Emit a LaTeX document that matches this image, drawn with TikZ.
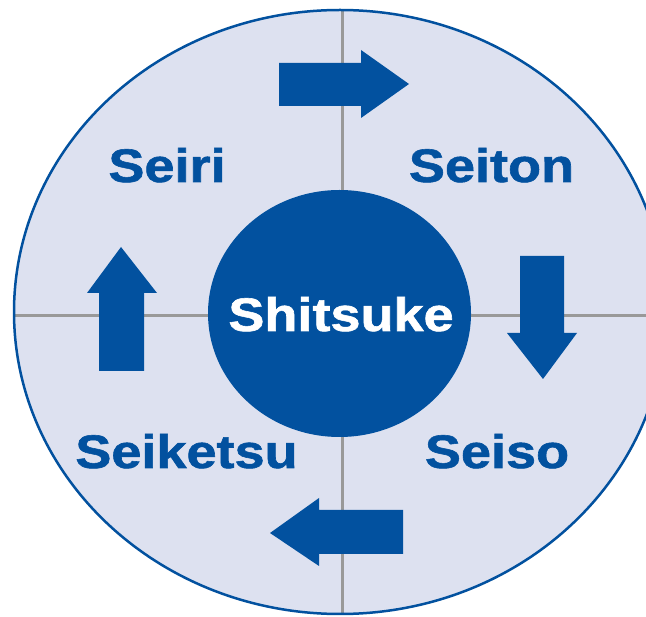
\documentclass[tikz,border=0pt]{standalone}
\usepackage{fontspec}
\setmainfont{Liberation Sans}
\newfontfamily\heavyfont[FakeBold=1.2]{Liberation Sans Bold}
\begin{document}
\begin{tikzpicture}[x=1pt,y=-1pt]
\definecolor{dblue}{RGB}{2,81,159}
\definecolor{lfill}{RGB}{221,225,240}
\definecolor{lgray}{RGB}{153,153,153}
\tikzset{
  lbl/.style={text=dblue, inner sep=0pt, anchor=base, font=\fontsize{47}{47}\heavyfont},
  arrowshape/.style={fill=dblue, draw=none},
  crossline/.style={draw=lgray, line width=3pt}
}
\useasboundingbox (0,0) rectangle (646,617);
\clip (0,0) rectangle (646,617);
\fill[white] (0,0) rectangle (646,617);
\path[fill=lfill] (340,312) ellipse [x radius=326, y radius=302];
\begin{scope}
  \clip (340,312) ellipse [x radius=326, y radius=302];
  \coordinate (vt) at (342,0);
  \coordinate (vb) at (342,617);
  \coordinate (hl) at (0,316);
  \coordinate (hr) at (646,316);
  \draw[crossline] (vt) -- (vb);
  \draw[crossline] (hl) -- (hr);
\end{scope}
\draw[dblue, line width=2.5pt] (340,312) ellipse [x radius=326, y radius=302];
\fill[dblue] (339.5,313.5) ellipse [x radius=131.5, y radius=123.5];
% arrows
\path[arrowshape] (279,63) -- (361,63) -- (361,50) -- (409,84) -- (361,118) -- (361,106) -- (279,106) -- cycle;
\path[arrowshape] (520,256) -- (564,256) -- (564,333) -- (577,333) -- (543,379) -- (507,333) -- (520,333) -- cycle;
\path[arrowshape] (403,510) -- (319,510) -- (319,498) -- (270,533) -- (319,566) -- (319,554) -- (403,554) -- cycle;
\path[arrowshape] (99,371) -- (99,293) -- (87,293) -- (121,247) -- (157,293) -- (144,293) -- (144,371) -- cycle;
% labels
\node[lbl] (seiri) at (167,182) {\scalebox{1.15}[1]{Seiri}};
\node[lbl] (seiton) at (491.5,182) {\scalebox{1.15}[1]{Seiton}};
\node[lbl, text=white] (shitsuke) at (341,331) {\scalebox{1.15}[1]{Shitsuke}};
\node[lbl] (seiketsu) at (186.5,468) {\scalebox{1.15}[1]{Seiketsu}};
\node[lbl] (seiso) at (497,468) {\scalebox{1.15}[1]{Seiso}};
\end{tikzpicture}
\end{document}
